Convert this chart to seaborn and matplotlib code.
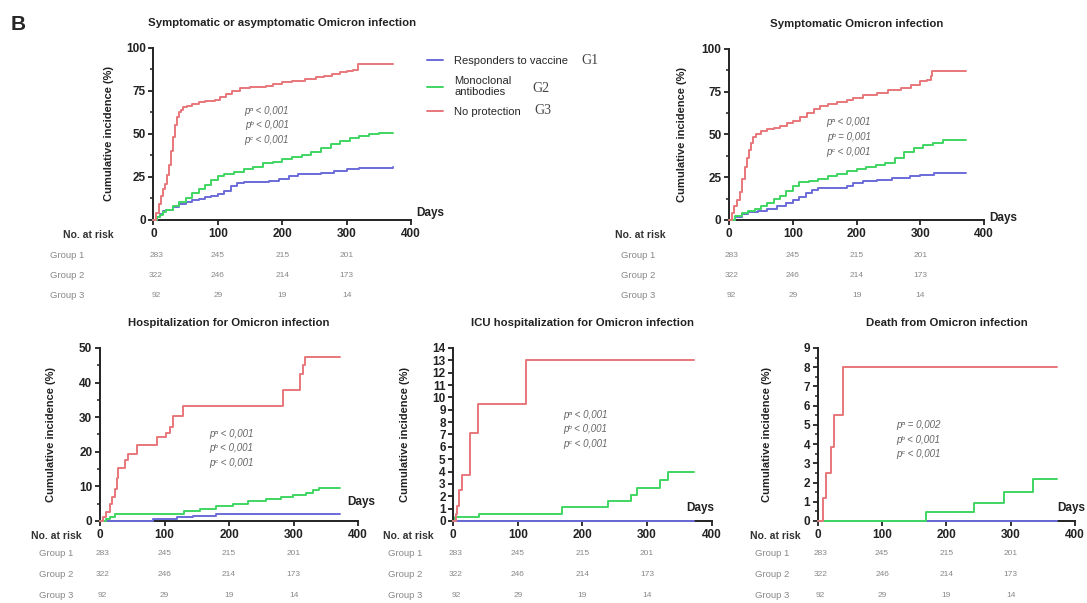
import pandas as pd
import matplotlib.pyplot as plt
import seaborn as sns
from matplotlib.ticker import MultipleLocator

# groups
groups = ["Responders to vaccine", "Monoclonal\nantibodies", "No protection"]
colors = ["#6b6bd9", "#3fd662", "#e8777b"]

# number at risk (same for every panel)
risk_days = [0, 100, 200, 300]
risk_g1 = [283, 245, 215, 201]
risk_g2 = [322, 246, 214, 173]
risk_g3 = [92, 29, 19, 14]

# symptomatic or asymptomatic infection
any_days_g1 = [0, 5, 10, 15, 20, 30, 40, 50, 60, 70, 80, 90, 100, 110, 120, 130, 140, 150,
               165, 180, 195, 210, 225, 240, 260, 280, 300, 320, 340, 372]
any_inc_g1 = [0, 1.8, 3.5, 5, 6, 7.5, 9, 10.5, 11.5, 12.3, 13.2, 14, 15, 17, 19.5, 21.5, 22, 22,
              22, 22.5, 24, 25.5, 26.5, 27, 27.5, 28.5, 29.5, 30, 30.5, 31]
any_days_g2 = [0, 5, 10, 15, 20, 30, 40, 50, 60, 70, 80, 90, 100, 110, 125, 140, 155, 170, 185,
               200, 215, 230, 245, 260, 275, 290, 305, 320, 335, 350, 372]
any_inc_g2 = [0, 1.5, 3, 4.5, 6, 8, 10.5, 13, 15.5, 18, 20.5, 23, 25.5, 27, 28, 29.5, 31, 33, 34,
              35.3, 36.5, 37.5, 39.5, 42, 44, 46, 47.5, 49, 50, 50.5, 50.5]
any_days_g3 = [0, 4, 8, 12, 15, 18, 21, 24, 27, 30, 33, 36, 39, 42, 46, 52, 60, 70, 80, 95, 103,
               112, 122, 135, 150, 175, 185, 200, 215, 235, 252, 265, 278, 290, 300, 310, 318, 372]
any_inc_g3 = [0, 4, 9, 14, 18, 21, 26, 32, 40, 48, 55, 60, 63, 64, 65.5, 66.5, 67.5, 68.5, 69, 70,
              71.5, 73, 75, 76.5, 77.5, 78, 79, 80.5, 81, 82, 83, 84, 85, 86, 86.5, 87, 90.5, 90.5]

# symptomatic infection
sym_days_g1 = [0, 10, 20, 30, 45, 60, 75, 90, 100, 110, 120, 130, 140, 170, 185, 195, 210, 232,
               255, 284, 300, 321, 340, 372]
sym_inc_g1 = [0, 2, 3.5, 4.5, 5.5, 6.5, 8, 10, 11.5, 13.5, 16, 17.5, 18.5, 18.5, 20, 21.5, 22.5,
              23.5, 24.5, 25.5, 26.5, 27.3, 27.7, 27.7]
sym_days_g2 = [0, 10, 20, 30, 40, 50, 60, 70, 80, 90, 100, 110, 125, 140, 155, 170, 185, 200, 215,
               230, 245, 260, 275, 290, 305, 320, 335, 350, 372]
sym_inc_g2 = [0, 2.5, 4, 5, 6.5, 8, 10, 12, 14, 17, 20, 22, 23, 24, 25.5, 27, 28.5, 30, 31, 32,
              33.5, 36.5, 39.5, 42, 44, 45, 46.5, 47, 47]
sym_days_g3 = [0, 4, 8, 12, 17, 21, 25, 28, 31, 34, 38, 42, 50, 60, 70, 80, 91, 100, 112, 122, 133,
               143, 155, 170, 185, 195, 210, 232, 250, 269, 285, 300, 310, 316, 318, 372]
sym_inc_g3 = [0, 4, 8, 11.7, 16.6, 24, 31, 36, 41, 45, 48.5, 50.5, 52, 53, 54, 55, 56.5, 58, 60,
              62.5, 65, 66.5, 68, 69, 70, 71.5, 73, 74.5, 76, 77, 79, 81, 82, 84, 87, 87]

# hospitalization
hosp_days_g1 = [0, 82, 119, 144, 180, 372]
hosp_inc_g1 = [0, 0.6, 1.2, 1.4, 2.1, 2.1]
hosp_days_g2 = [0, 10, 15, 23, 100, 130, 155, 180, 206, 230, 258, 280, 299, 320, 330, 340, 372]
hosp_inc_g2 = [0, 0.7, 1.2, 1.9, 2.1, 2.8, 3.6, 4.2, 5, 5.7, 6.5, 7.0, 7.4, 8.2, 8.9, 9.4, 9.4]
hosp_days_g3 = [0, 5, 10, 15, 18, 23, 26, 28, 39, 44, 57, 88, 103, 108, 113, 129, 283, 310, 314,
                318, 372]
hosp_inc_g3 = [0, 1.2, 2.6, 5, 7, 9.2, 12.5, 15.2, 17.6, 19.5, 21.9, 24.3, 25.3, 27.2, 30.3, 33.3,
               37.8, 42.5, 45, 47.4, 47.4]

# ICU hospitalization
icu_days_g1 = [0, 372]
icu_inc_g1 = [0, 0]
icu_days_g2 = [0, 3, 40, 168, 240, 275, 285, 320, 333, 372]
icu_inc_g2 = [0, 0.3, 0.6, 1.1, 1.6, 2.1, 2.7, 3.3, 4, 4]
icu_days_g3 = [0, 4, 6, 9, 13, 26, 39, 113, 372]
icu_inc_g3 = [0, 0.6, 1.2, 2.5, 3.7, 7.1, 9.5, 13, 13]

# death
death_days_g1 = [0, 372]
death_inc_g1 = [0, 0]
death_days_g2 = [0, 168, 243, 290, 334, 372]
death_inc_g2 = [0, 0.45, 0.95, 1.5, 2.2, 2.2]
death_days_g3 = [0, 8, 13, 20, 26, 40, 372]
death_inc_g3 = [0, 1.2, 2.5, 3.85, 5.5, 8, 8]

pvals_any = ["pᵃ < 0,001", "pᵇ < 0,001", "pᶜ < 0,001"]
pvals_sym = ["pᵃ < 0,001", "pᵇ = 0,001", "pᶜ < 0,001"]
pvals_hosp = ["pᵃ < 0,001", "pᵇ < 0,001", "pᶜ < 0,001"]
pvals_icu = ["pᵃ < 0,001", "pᵇ < 0,001", "pᶜ < 0,001"]
pvals_death = ["pᵃ = 0,002", "pᵇ < 0,001", "pᶜ < 0,001"]

sns.set_style("ticks")
plt.rcParams["font.family"] = ["Liberation Sans", "DejaVu Sans"]


def curve_frame(days_list, inc_list):
    parts = []
    for name, d, v in zip(groups, days_list, inc_list):
        parts.append(pd.DataFrame({"Days": d, "Incidence": v, "Group": name}))
    return pd.concat(parts, ignore_index=True)


panels = [
    dict(rect=[0.1412, 0.6352, 0.2369, 0.2852], title="Symptomatic or asymptomatic Omicron infection",
         days=[any_days_g1, any_days_g2, any_days_g3], inc=[any_inc_g1, any_inc_g2, any_inc_g3],
         ymax=100, major=25, minor=12.5, pvals=pvals_any, ppos=(0.44, 0.55), dpos=(1.02, 0.04),
         risk_rows=[-0.205, -0.325, -0.44], nar_x=-62, grp_x=-134, ylab_x=-0.155, legend=True),
    dict(rect=[0.6707, 0.6352, 0.2346, 0.2836], title="Symptomatic Omicron infection",
         days=[sym_days_g1, sym_days_g2, sym_days_g3], inc=[sym_inc_g1, sym_inc_g2, sym_inc_g3],
         ymax=100, major=25, minor=12.5, pvals=pvals_sym, ppos=(0.47, 0.485), dpos=(1.02, 0.01),
         risk_rows=[-0.205, -0.325, -0.44], nar_x=-100, grp_x=-143, ylab_x=-0.165, legend=False),
    dict(rect=[0.092, 0.136, 0.2374, 0.2869], title="Hospitalization for Omicron infection",
         days=[hosp_days_g1, hosp_days_g2, hosp_days_g3], inc=[hosp_inc_g1, hosp_inc_g2, hosp_inc_g3],
         ymax=50, major=10, minor=5, pvals=pvals_hosp, ppos=(0.51, 0.42), dpos=(0.96, 0.11),
         risk_rows=[-0.19, -0.312, -0.432], nar_x=-28, grp_x=-68, ylab_x=-0.172, legend=False),
    dict(rect=[0.417, 0.136, 0.2377, 0.2869], title="ICU hospitalization for Omicron infection",
         days=[icu_days_g1, icu_days_g2, icu_days_g3], inc=[icu_inc_g1, icu_inc_g2, icu_inc_g3],
         ymax=14, major=1, minor=None, pvals=pvals_icu, ppos=(0.51, 0.53), dpos=(0.9, 0.075),
         risk_rows=[-0.19, -0.312, -0.432], nar_x=-30, grp_x=-74, ylab_x=-0.166, legend=False),
    dict(rect=[0.7523, 0.136, 0.2367, 0.2869], title="Death from Omicron infection",
         days=[death_days_g1, death_days_g2, death_days_g3], inc=[death_inc_g1, death_inc_g2, death_inc_g3],
         ymax=9, major=1, minor=0.5, pvals=pvals_death, ppos=(0.39, 0.47), dpos=(0.93, 0.075),
         risk_rows=[-0.19, -0.312, -0.432], nar_x=-27, grp_x=-71, ylab_x=-0.178, legend=False),
]

fig = plt.figure(figsize=(10.87, 6.03), dpi=100)
fig.text(0.01, 0.975, "B", fontsize=15, fontweight="bold", va="top")

for p in panels:
    ax = fig.add_axes(p["rect"])
    df = curve_frame(p["days"], p["inc"])
    sns.lineplot(data=df, x="Days", y="Incidence", hue="Group", hue_order=groups,
                 palette=colors, drawstyle="steps-post", estimator=None, lw=1.4,
                 legend=p["legend"], ax=ax, zorder=3, clip_on=False)
    ax.set_xlim(0, 400)
    ax.set_ylim(0, p["ymax"])
    ax.xaxis.set_major_locator(MultipleLocator(100))
    ax.yaxis.set_major_locator(MultipleLocator(p["major"]))
    if p["minor"]:
        ax.yaxis.set_minor_locator(MultipleLocator(p["minor"]))
    sns.despine(ax=ax)
    for s in ["left", "bottom"]:
        ax.spines[s].set_linewidth(1.4)
        ax.spines[s].set_color("#222")
    ax.tick_params(axis="both", which="major", length=3.5, width=1.3, pad=2, labelsize=8.5,
                   colors="#222")
    ax.tick_params(axis="y", which="minor", length=2.2, width=1.1, color="#222")
    for lab in ax.get_xticklabels() + ax.get_yticklabels():
        lab.set_fontweight("bold")
    ax.set_title(p["title"], fontsize=8.2, fontweight="bold", pad=15.5, color="#222")
    ax.set_xlabel("")
    ax.set_ylabel("Cumulative incidence (%)", fontsize=8, fontweight="bold", color="#222")
    ax.yaxis.set_label_coords(p["ylab_x"], 0.5)
    ax.text(p["dpos"][0], p["dpos"][1], "Days", transform=ax.transAxes, fontsize=8.5,
            fontweight="bold", ha="left", va="center", color="#222")
    ax.text(p["ppos"][0], p["ppos"][1], "\n".join(p["pvals"]), transform=ax.transAxes,
            fontsize=7, style="italic", color="#666", ha="center", va="center", linespacing=1.6)

    # number at risk table
    tr = ax.get_xaxis_transform()
    ax.text(p["nar_x"], -0.087, "No. at risk", transform=tr, ha="right", va="center",
            fontsize=7.5, fontweight="bold", color="#333", clip_on=False)
    for row_y, name, counts in zip(p["risk_rows"], ["Group 1", "Group 2", "Group 3"],
                                   [risk_g1, risk_g2, risk_g3]):
        ax.text(p["grp_x"], row_y, name, transform=tr, ha="center", va="center",
                fontsize=6.8, color="#888", clip_on=False)
        for d, n in zip(risk_days, counts):
            ax.text(d if d else 4, row_y, str(n), transform=tr, ha="center", va="center",
                    fontsize=6, color="#888", clip_on=False)

    if p["legend"]:
        sns.move_legend(ax, "upper left", bbox_to_anchor=(1.025, 1.01), frameon=False,
                        title=None, fontsize=8, handlelength=1.4, labelspacing=0.85,
                        handletextpad=1.0)

# group tags next to the legend
fig.text(0.535, 0.899, "G1", fontsize=10, color="#444", family="Liberation Serif", va="center")
fig.text(0.49, 0.854, "G2", fontsize=10, color="#444", family="Liberation Serif", va="center")
fig.text(0.492, 0.817, "G3", fontsize=10, color="#444", family="Liberation Serif", va="center")

fig.savefig("out.png", dpi=100)
